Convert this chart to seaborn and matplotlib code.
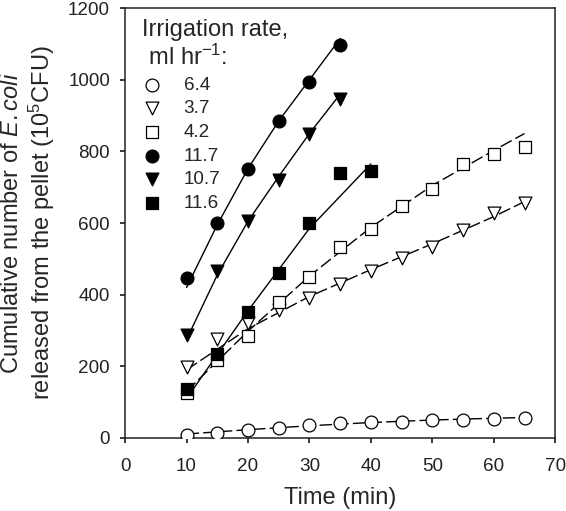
#!/usr/bin/env python3
"""Cumulative E. coli released from the pellet vs time, per irrigation rate."""

import matplotlib

matplotlib.use("Agg")
import matplotlib.pyplot as plt
import pandas as pd
import seaborn as sns

# measured points (time in min, cumulative count in 10^5 CFU)
time_long = [10, 15, 20, 25, 30, 35, 40, 45, 50, 55, 60, 65]
rate_64 = [8, 15, 22, 29, 36, 42, 45, 45, 49, 51, 53, 55]
rate_37 = [198, 277, 320, 357, 390, 430, 466, 502, 533, 580, 627, 656]
rate_42 = [126, 218, 285, 379, 448, 533, 583, 648, 695, 765, 793, 812]

time_short = [10, 15, 20, 25, 30, 35]
rate_117 = [446, 600, 750, 885, 995, 1097]
rate_107 = [287, 467, 605, 720, 850, 945]

time_116 = [10, 15, 20, 25, 30, 35, 40]
rate_116 = [138, 234, 352, 460, 600, 740, 745]

# fitted curves as drawn in the figure
fit_x_long = [10, 20, 30, 40, 50, 60, 65]
fit_64 = [11, 23, 34, 43, 50, 55, 57]
fit_37 = [190, 305, 395, 470, 542, 618, 660]
fit_42 = [130, 298, 452, 588, 705, 803, 850]

fit_x_short = [10, 15, 20, 25, 30, 35]
fit_117 = [420, 595, 752, 885, 1000, 1115]
fit_107 = [275, 455, 605, 730, 850, 960]

fit_x_116 = [10, 20, 30, 40]
fit_116 = [110, 355, 585, 765]

LEGEND_LABELS = ["6.4", "3.7", "4.2", "11.7", "10.7", "11.6"]


def setup_style() -> None:
    sns.set_theme(style="ticks")
    plt.rcParams["font.family"] = ["Liberation Sans", "DejaVu Sans"]
    plt.rcParams["mathtext.fontset"] = "custom"
    plt.rcParams["mathtext.rm"] = "Liberation Sans"
    plt.rcParams["mathtext.it"] = "Liberation Sans:italic"
    plt.rcParams["axes.edgecolor"] = "#222222"
    plt.rcParams["axes.linewidth"] = 1.1
    plt.rcParams["xtick.color"] = "#222222"
    plt.rcParams["ytick.color"] = "#222222"
    plt.rcParams["xtick.major.size"] = 3.8
    plt.rcParams["ytick.major.size"] = 3.8


def main() -> None:
    setup_style()
    fig = plt.figure(figsize=(5.66, 5.11), dpi=100)
    ax = fig.add_axes([0.221, 0.143, 0.760, 0.841])

    dash = (9, 3)
    fits = [
        (fit_x_long, fit_64, dash),
        (fit_x_long, fit_37, dash),
        (fit_x_long, fit_42, dash),
        (fit_x_short, fit_117, None),
        (fit_x_short, fit_107, None),
        (fit_x_116, fit_116, None),
    ]
    for fx, fy, dashes in fits:
        line = sns.lineplot(x=fx, y=fy, ax=ax, color="black", linewidth=1.0)
        if dashes:
            line.lines[-1].set_dashes(dashes)

    series = [
        (time_long, rate_64, "o", "white"),
        (time_long, rate_37, "v", "white"),
        (time_long, rate_42, "s", "white"),
        (time_short, rate_117, "o", "black"),
        (time_short, rate_107, "v", "black"),
        (time_116, rate_116, "s", "black"),
    ]
    for (x, y, marker, face), label in zip(series, LEGEND_LABELS):
        df = pd.DataFrame({"time": x, "count": y})
        sns.scatterplot(
            data=df, x="time", y="count", ax=ax, marker=marker, s=85,
            facecolor=face, edgecolor="black", linewidth=0.9, label=label,
            zorder=3,
        )

    ax.set_xlim(0, 70)
    ax.set_ylim(0, 1200)
    ax.set_xticks(range(0, 71, 10))
    ax.set_yticks(range(0, 1201, 200))
    ax.tick_params(axis="x", labelsize=13.6, pad=10.5)
    ax.tick_params(axis="y", labelsize=13.6, pad=7)
    for side in ["top", "right"]:
        ax.spines[side].set_visible(True)

    ax.set_xlabel("Time (min)", fontsize=17, labelpad=9)
    ax.set_ylabel(
        "Cumulative number of $\\it{E.coli}$\nreleased from the pellet (10$^5$CFU)",
        fontsize=17, labelpad=8, linespacing=1.17,
    )

    leg = ax.legend(
        title="Irrigation rate,\n ml hr$^{-1}$:", loc="upper left",
        bbox_to_anchor=(0.0, 1.015),
        frameon=False, fontsize=13.6, title_fontsize=17,
        handlelength=1.0, handletextpad=1.2, labelspacing=0.34,
        borderpad=0.4, borderaxespad=0.5,
    )
    leg._legend_box.align = "left"

    fig.savefig("out.png", dpi=100)


if __name__ == "__main__":
    main()
